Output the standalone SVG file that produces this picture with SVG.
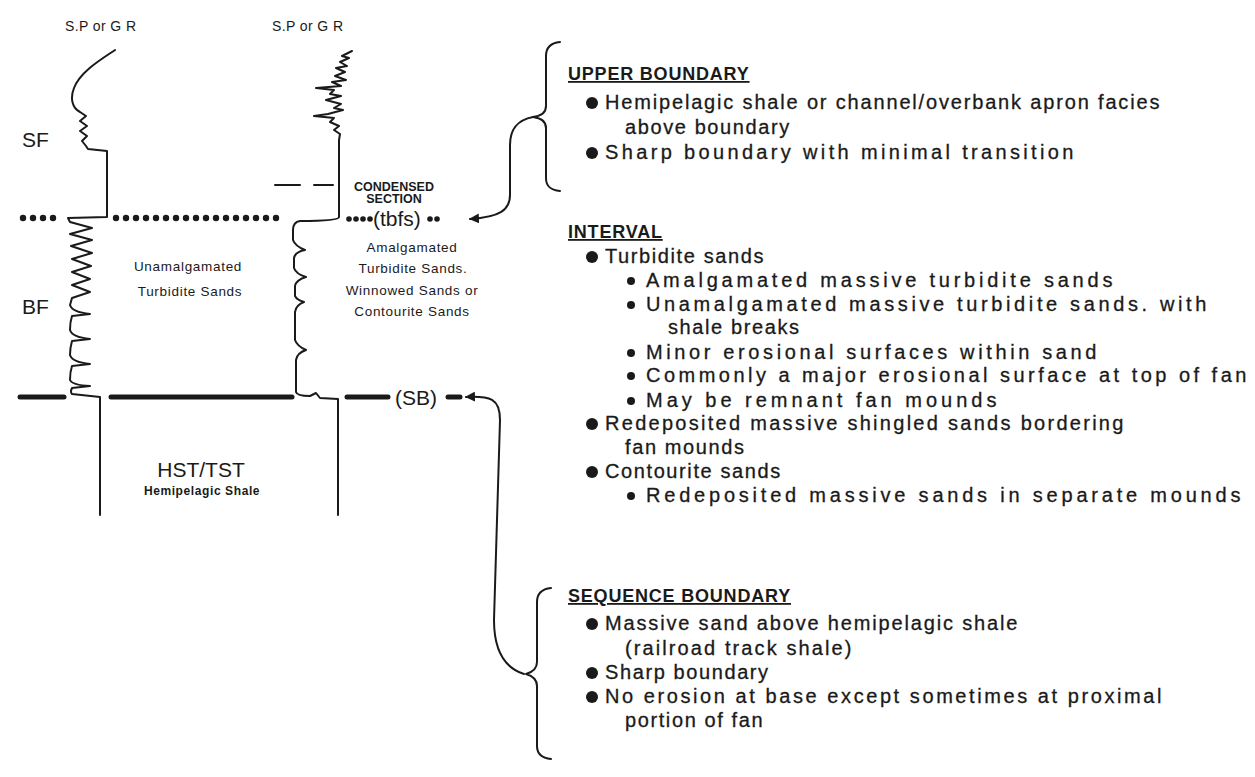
<svg xmlns="http://www.w3.org/2000/svg" width="1255" height="777" viewBox="0 0 1255 777">
<defs>
<style>
.t{font-family:"Liberation Sans",Arial,sans-serif;fill:#1a1a1a}
.body{font-size:20px;letter-spacing:1.6px;stroke:#1a1a1a;stroke-width:0.3}
.hd{font-size:18px;font-weight:bold;letter-spacing:0.8px;text-decoration:underline}
.sm{font-size:13.5px;letter-spacing:0.7px}
.ln{fill:none;stroke:#1a1a1a;stroke-width:2;stroke-linejoin:round;stroke-linecap:round}
.thick{stroke:#1a1a1a;stroke-width:5;stroke-linecap:round}
.dot{fill:#1a1a1a}
</style>
<marker id="ah" viewBox="0 0 10 10" refX="9" refY="5" markerWidth="5" markerHeight="5" orient="auto">
<path d="M0,0 L10,5 L0,10 Z" fill="#1a1a1a"/>
</marker>
</defs>
<rect width="1255" height="777" fill="#ffffff"/>

<g id="left-log">
<text class="t" x="65" y="31" font-size="14" letter-spacing="0.4">S.P or G R</text>
<text class="t" x="22" y="147" font-size="21">SF</text>
<text class="t" x="22" y="314" font-size="21">BF</text>
<path class="ln" d="M115 50 C100 60 80 72 74 88 C70 98 72 108 80 112 L86 116 L80 121 L87 126 L80 131 L87 136 L82 141 L86 146 L88 149 L107 151 L107 217 L68 218 L70 222 L92 228 L70 234 L92 240 L71 246 L92 253 L72 259 L91 266 L72 272 L90 279 L72 285 L90 292 L72 298 L70 305 Q72 312 90 314 L72 316 Q70 322 70 330 Q72 337 90 339 L72 341 Q70 348 70 355 Q72 362 90 364 L72 366 Q70 372 70 380 Q72 385 90 386 L72 388 Q70 392 72 394 L100 397 L100 515"/>
</g>

<g id="right-log">
<text class="t" x="272" y="31" font-size="14" letter-spacing="0.4">S.P or G R</text>
<path class="ln" stroke-width="2.6" d="M352 51 L342 56 L349 58 L340 62 L347 66 L336 68 L345 72 L335 76 L346 80 L332 82 L341 86 L316 88 L334 90 L330 94 L341 96 L326 100 L341 104 L334 108 L343 110 L328 114 L314 116 L334 118 L330 122 L339 126 L334 130 L340 134 L339 140 L339 217 Q339 221 300 221 Q293 222 293 230 L293 240 Q295 246 305 250 Q295 252 294 258 L294 268 Q296 274 306 277 Q296 280 295 286 L295 296 Q297 300 304 302 Q296 305 295 312 L295 340 Q297 346 306 350 Q297 353 296 360 L296 392 Q297 396 310 396 L316 393 L320 398 L338 399 L338 515"/>
<line class="ln" x1="275" y1="185" x2="300" y2="185"/>
<line class="ln" x1="314" y1="185" x2="333" y2="185"/>
<text class="t" x="394" y="191" font-size="12.5" font-weight="bold" text-anchor="middle">CONDENSED</text>
<text class="t" x="394" y="203" font-size="12.5" font-weight="bold" text-anchor="middle">SECTION</text>
</g>

<g id="tbfs-line">
<g class="dot">
<circle cx="23" cy="218" r="3.2"/><circle cx="33" cy="218" r="3.2"/><circle cx="43" cy="218" r="3.2"/><circle cx="53" cy="218" r="3.2"/>
<circle cx="116" cy="218" r="3.2"/><circle cx="126" cy="218" r="3.2"/><circle cx="136" cy="218" r="3.2"/><circle cx="146" cy="218" r="3.2"/><circle cx="156" cy="218" r="3.2"/><circle cx="166" cy="218" r="3.2"/><circle cx="176" cy="218" r="3.2"/><circle cx="186" cy="218" r="3.2"/><circle cx="196" cy="218" r="3.2"/><circle cx="206" cy="218" r="3.2"/><circle cx="216" cy="218" r="3.2"/><circle cx="226" cy="218" r="3.2"/><circle cx="236" cy="218" r="3.2"/><circle cx="246" cy="218" r="3.2"/><circle cx="256" cy="218" r="3.2"/><circle cx="266" cy="218" r="3.2"/><circle cx="276" cy="218" r="3.2"/>
<circle cx="349" cy="219" r="2.8"/><circle cx="356" cy="219" r="2.8"/><circle cx="363" cy="219" r="2.8"/><circle cx="370" cy="219" r="2.8"/>
<circle cx="430" cy="219" r="2.8"/><circle cx="437" cy="219" r="2.8"/>
</g>
<text class="t" x="373" y="226" font-size="21">(tbfs)</text>
</g>

<g id="sb-line">
<line class="thick" x1="20" y1="397" x2="64" y2="397"/>
<line class="thick" x1="111" y1="397" x2="292" y2="397"/>
<line class="thick" x1="347" y1="397" x2="388" y2="397"/>
<text class="t" x="395" y="405" font-size="21">(SB)</text>
<line class="thick" x1="448" y1="397" x2="460" y2="397"/>
</g>

<g id="facies-labels">
<text class="t sm" x="188" y="271" text-anchor="middle">Unamalgamated</text>
<text class="t sm" x="190" y="296" text-anchor="middle">Turbidite Sands</text>
<text class="t sm" x="412" y="252" text-anchor="middle">Amalgamated</text>
<text class="t sm" x="413" y="273" text-anchor="middle">Turbidite Sands.</text>
<text class="t sm" x="412" y="295" text-anchor="middle">Winnowed Sands or</text>
<text class="t sm" x="412" y="316" text-anchor="middle">Contourite Sands</text>
<text class="t" x="201" y="477" font-size="21" text-anchor="middle">HST/TST</text>
<text class="t" x="202" y="495" font-size="12" font-weight="bold" letter-spacing="0.6" text-anchor="middle">Hemipelagic Shale</text>
</g>

<g id="connectors">
<path class="ln" d="M533 117 C518 120 510 128 510 145 L510 195 C510 210 500 217 470 219" marker-end="url(#ah)"/>
<path class="ln" d="M524 674 C505 668 494 650 494 620 L500 420 C500 398 490 396 466 397" marker-end="url(#ah)"/>
</g>

<g id="upper-boundary">
<path class="ln" d="M560 42 C550 43 546 48 546 56 L546 106 C546 113 541 116 533 117 C541 118 546 121 546 128 L546 178 C546 186 550 190 560 191"/>
<text class="t hd" x="568" y="80">UPPER BOUNDARY</text>
<circle class="dot" cx="592" cy="103" r="6"/>
<text class="t body" x="605" y="109" textLength="556" lengthAdjust="spacing">Hemipelagic shale or channel/overbank apron facies</text>
<text class="t body" x="625" y="134">above boundary</text>
<circle class="dot" cx="592" cy="153" r="6"/>
<text class="t body" x="605" y="159" textLength="470" lengthAdjust="spacing">Sharp boundary with minimal transition</text>
</g>

<g id="interval">
<text class="t hd" x="568" y="238">INTERVAL</text>
<circle class="dot" cx="592" cy="257" r="6"/>
<text class="t body" x="605" y="263">Turbidite sands</text>
<circle class="dot" cx="631" cy="281" r="4"/>
<text class="t body" x="646" y="287" textLength="468" lengthAdjust="spacing">Amalgamated massive turbidite sands</text>
<circle class="dot" cx="631" cy="305" r="4"/>
<text class="t body" x="646" y="311" textLength="562" lengthAdjust="spacing">Unamalgamated massive turbidite sands. with</text>
<text class="t body" x="668" y="334">shale breaks</text>
<circle class="dot" cx="631" cy="353" r="4"/>
<text class="t body" x="646" y="359" textLength="452" lengthAdjust="spacing">Minor erosional surfaces within sand</text>
<circle class="dot" cx="631" cy="376" r="4"/>
<text class="t body" x="646" y="382" textLength="602" lengthAdjust="spacing">Commonly a major erosional surface at top of fan</text>
<circle class="dot" cx="631" cy="401" r="4"/>
<text class="t body" x="646" y="407" textLength="352" lengthAdjust="spacing">May be remnant fan mounds</text>
<circle class="dot" cx="592" cy="424" r="6"/>
<text class="t body" x="605" y="430" textLength="520" lengthAdjust="spacing">Redeposited massive shingled sands bordering</text>
<text class="t body" x="625" y="454">fan mounds</text>
<circle class="dot" cx="592" cy="472" r="6"/>
<text class="t body" x="605" y="478">Contourite sands</text>
<circle class="dot" cx="631" cy="496" r="4"/>
<text class="t body" x="646" y="502" textLength="596" lengthAdjust="spacing">Redeposited massive sands in separate mounds</text>
</g>

<g id="sequence-boundary">
<path class="ln" d="M551 588 C542 589 537 594 537 602 L537 662 C537 669 533 672 526 674 C533 676 537 679 537 686 L537 746 C537 754 542 758 551 759"/>
<text class="t hd" x="568" y="602">SEQUENCE BOUNDARY</text>
<circle class="dot" cx="592" cy="624" r="6"/>
<text class="t body" x="605" y="630" textLength="414" lengthAdjust="spacing">Massive sand above hemipelagic shale</text>
<text class="t body" x="625" y="655" textLength="228" lengthAdjust="spacing">(railroad track shale)</text>
<circle class="dot" cx="592" cy="673" r="6"/>
<text class="t body" x="605" y="679">Sharp boundary</text>
<circle class="dot" cx="592" cy="697" r="6"/>
<text class="t body" x="605" y="703" textLength="558" lengthAdjust="spacing">No erosion at base except sometimes at proximal</text>
<text class="t body" x="625" y="727">portion of fan</text>
</g>
</svg>
